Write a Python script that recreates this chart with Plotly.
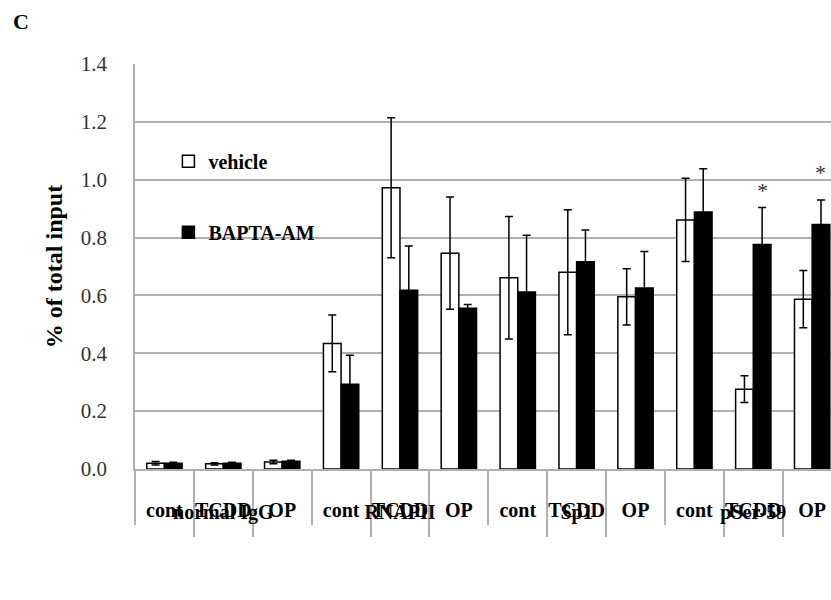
import plotly.graph_objects as go

groups = ["normal IgG"] * 3 + ["RNAPII"] * 3 + ["Sp1"] * 3 + ["pSer-59"] * 3
subs = ["cont", "TCDD", "OP"] * 4

vehicle = [0.020, 0.018, 0.024, 0.434, 0.972, 0.746, 0.661, 0.680, 0.595, 0.861, 0.276, 0.587]
vehicle_err = [0.006, 0.004, 0.006, 0.098, 0.242, 0.194, 0.212, 0.216, 0.097, 0.144, 0.046, 0.099]
bapta = [0.020, 0.020, 0.027, 0.293, 0.618, 0.556, 0.612, 0.716, 0.626, 0.888, 0.776, 0.845]
bapta_err = [0.003, 0.003, 0.003, 0.100, 0.153, 0.013, 0.196, 0.110, 0.126, 0.150, 0.128, 0.085]

star_idx = [10, 11]
star_y = [0.963, 1.025]

y_ticks = [0.0, 0.2, 0.4, 0.6, 0.8, 1.0, 1.2, 1.4]

SERIF = "Liberation Serif, Times New Roman, serif"
GRID = "#b0b0b0"

xcats = [[f"<b>{g}</b>" for g in groups], [f"<b>{s}</b>" for s in subs]]

fig = go.Figure()
fig.add_trace(go.Bar(
    x=xcats, y=vehicle, name="<b>vehicle</b>", legendgroup="a",
    marker=dict(color="white", line=dict(color="black", width=1.5)),
    error_y=dict(type="data", array=vehicle_err, visible=True, color="black", thickness=1.5, width=4),
))
fig.add_trace(go.Bar(
    x=xcats, y=bapta, name="<b>BAPTA-AM</b>", legendgroup="b",
    marker=dict(color="black", line=dict(color="black", width=1.5)),
    error_y=dict(type="data", array=bapta_err, visible=True, color="black", thickness=1.5, width=4),
))

for i, yv in zip(star_idx, star_y):
    fig.add_annotation(x=i + 0.15, y=yv, xref="x", yref="y", text="*", showarrow=False,
                       font=dict(family=SERIF, size=22, color="#333"))

fig.add_annotation(x=-0.164, y=1.104, xref="paper", yref="paper", text="<b>C</b>",
                   showarrow=False, font=dict(family=SERIF, size=22, color="black"),
                   xanchor="center", yanchor="middle")

# white box behind legend hiding gridlines
fig.add_shape(type="rect", xref="paper", yref="paper", x0=0.0175, x1=0.308, y0=0.44, y1=0.84,
              fillcolor="white", line=dict(width=0), layer="between")

fig.update_layout(
    width=831, height=600,
    margin=dict(l=135, r=0, t=64, b=131),
    paper_bgcolor="white", plot_bgcolor="white",
    barmode="group", bargap=0.4, bargroupgap=0,
    font=dict(family=SERIF, color="black"),
    legend=dict(x=0.048, y=0.808, xanchor="left", yanchor="top", bgcolor="rgba(0,0,0,0)",
                font=dict(family=SERIF, size=20, color="black"), tracegroupgap=42,
                itemclick=False),
    showlegend=True,
)
fig.update_yaxes(
    range=[0, 1.4], tickvals=y_ticks, ticktext=[f"{v:.1f}" for v in y_ticks],
    showgrid=True, gridcolor=GRID, gridwidth=1.5,
    showline=True, linecolor=GRID, linewidth=1.5,
    ticks="outside", ticklen=22, tickcolor="rgba(0,0,0,0)",
    tickfont=dict(family=SERIF, size=21, color="#333"),
    title=dict(text="<b>% of total input</b>", font=dict(family=SERIF, size=24, color="black"), standoff=11),
    zeroline=False, automargin=False,
)
fig.update_xaxes(
    type="multicategory", range=[-0.5, 11.32],
    showline=True, linecolor=GRID, linewidth=1.5,
    ticks="outside", ticklen=66, tickcolor=GRID, tickwidth=1.5, tickson="boundaries",
    ticklabelstandoff=22, tickangle=0,
    showdividers=True, dividercolor=GRID, dividerwidth=1.5,
    tickfont=dict(family=SERIF, size=20, color="black"),
    showgrid=False, automargin=False,
)

fig.write_html(
    "out.html",
    config={"displayModeBar": False},
    post_script="document.body.style.margin='0';document.body.style.overflow='hidden';",
)
